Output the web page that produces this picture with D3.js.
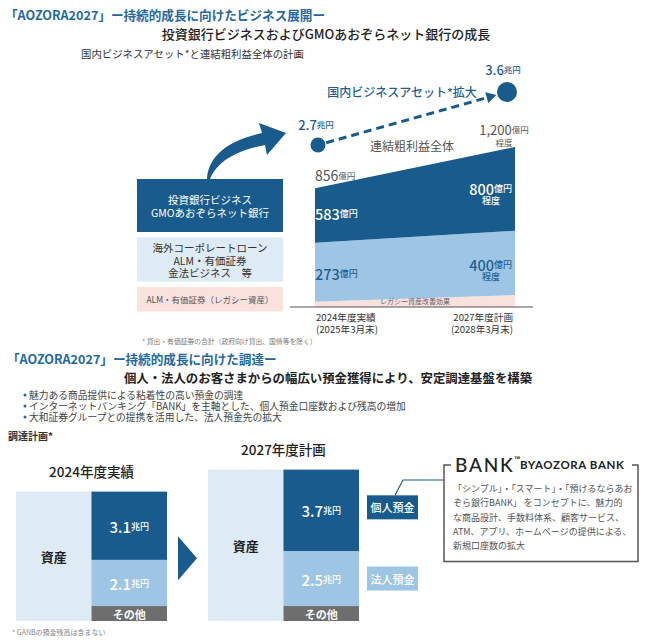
<!DOCTYPE html>
<html><head><meta charset="utf-8">
<script src="https://cdn.jsdelivr.net/npm/d3@7"></script>
<style>
body{margin:0;background:#fff;}
svg{display:block;font-family:"Noto Sans CJK JP","Noto Sans",sans-serif;}
</style></head>
<body>
<svg id="c" width="648" height="644"></svg>
<script>
// ---------- DATA ----------
const years = [2024, 2027];
const periodLabels = [["2024年度実績", "(2025年3月末)"], ["2027年度計画", "(2028年3月末)"]];
const legacyArea = [40, 90];          // 億円, shape as drawn
const corporateArea = [442, 482];
const investArea = [408, 628];
const totalLabels = ["856", "1,200"];
const corporateLabels = ["273", "400"];
const investLabels = ["583", "800"];
const assetValues = [2.7, 3.6];        // 兆円
const assetLabels = ["2.7", "3.6"];

const fundingPeriods = ["2024年度実績", "2027年度計画"];
const retailDeposits = [3.1, 3.7];     // 兆円
const corporateDeposits = [2.1, 2.5];
const otherFunding = [0.68, 0.68];
const bulletTexts = [
  "魅力ある商品提供による粘着性の高い預金の調達",
  "インターネットバンキング「BANK」を主軸とした、個人預金口座数および残高の増加",
  "大和証券グループとの提携を活用した、法人預金先の拡大"
];
const bankLines = [
  "「シンプル」・「スマート」・「預けるならあお",
  "ぞら銀行BANK」 をコンセプトに、魅力的",
  "な商品設計、手数料体系、顧客サービス、",
  "ATM、アプリ、ホームページの提供による、",
  "新規口座数の拡大"
];

// ---------- STYLE ----------
const DARK = "#195b8c", LIGHT = "#9fc5e4", PALE = "#deebf5", PINK = "#f9e1dd";
const TITLE = "#2468a2", GREY = "#555", OTHER = "#6e6e6e";

const svg = d3.select("#c");

function txt(x, y, parts, o = {}) {
  const t = svg.append("text").attr("x", x).attr("y", y)
    .attr("text-anchor", o.anchor || "start")
    .attr("dominant-baseline", "central")
    .attr("fill", o.fill || "#333");
  if (o.ls) t.attr("letter-spacing", o.ls);
  parts.forEach(p => {
    t.append("tspan").text(p[0]).attr("font-size", p[1]).attr("font-weight", p[2] || 400);
  });
  return t;
}

// ---------- HEADERS ----------
txt(5, 14, [["「AOZORA2027」ー持続的成長に向けたビジネス展開ー", 12.6, 700]], {fill: TITLE});
txt(326, 33, [["投資銀行ビジネスおよびGMOあおぞらネット銀行の成長", 13, 500]], {anchor: "middle", fill: "#222"});
txt(81, 53, [["国内ビジネスアセット*と連結粗利益全体の計画", 10.4, 400]], {fill: "#333"});

// ---------- SECTION 1 AREA CHART ----------
const x = d3.scaleLinear().domain(years).range([315, 515]);
const y = d3.scaleLinear().domain([0, 1200]).range([307, 147]);
const rows = years.map((yr, i) => ({year: yr, legacy: legacyArea[i], corporate: corporateArea[i], invest: investArea[i]}));
const stack = d3.stack().keys(["legacy", "corporate", "invest"])(rows);
const fills = {legacy: PINK, corporate: LIGHT, invest: DARK};
const area = d3.area().x(d => x(d.data.year)).y0(d => y(d[0])).y1(d => y(d[1]));
svg.append("g").selectAll("path").data(stack).join("path")
  .attr("d", area).attr("fill", d => fills[d.key]);

// axis line
svg.append("line").attr("x1", x(2024) - 25).attr("x2", x(2027) + 18)
  .attr("y1", y(0)).attr("y2", y(0)).attr("stroke", "#555").attr("stroke-width", 1.2);

txt((x(2024) + x(2027)) / 2, y(0) - 6, [["レガシー資産改善効果", 7, 400]], {anchor: "middle", fill: "#666"});

// period labels
periodLabels.forEach((pl, i) => {
  const a = i === 0 ? "start" : "end";
  const xx = i === 0 ? x(years[0]) + 1 : x(years[1]) - 2;
  txt(xx, 317, [[pl[0], 9.6, 400]], {anchor: a, fill: "#333"});
  txt(xx, 329, [[pl[1], 9.6, 400]], {anchor: a, fill: "#333"});
});

// area value labels
const top0 = y(legacyArea[0] + corporateArea[0] + investArea[0]);
const top1 = y(legacyArea[1] + corporateArea[1] + investArea[1]);
txt(x(2024), top0 - 13, [[totalLabels[0], 14, 400], ["億円", 8.5, 400]], {fill: GREY});
txt(x(2027) - 11, top1 - 18, [[totalLabels[1], 13, 400], ["億円", 8.5, 400]], {anchor: "middle", fill: GREY});
txt(x(2027) - 11, top1 - 5, [["程度", 8.5, 400]], {anchor: "middle", fill: GREY});

const invMid0 = y(legacyArea[0] + corporateArea[0] + investArea[0] / 2);
txt(x(2024), invMid0 - 3, [[investLabels[0], 14.5, 500], ["億円", 9, 500]], {fill: "#fff"});
txt(x(2027) - 3, top1 + 41, [[investLabels[1], 14.5, 500], ["億円", 9, 500]], {anchor: "end", fill: "#fff"});
txt(x(2027) - 24, top1 + 53, [["程度", 9, 500]], {anchor: "middle", fill: "#fff"});

const corMid0 = y(legacyArea[0] + corporateArea[0] / 2);
txt(x(2024), corMid0 + 1, [[corporateLabels[0], 14.5, 500], ["億円", 9, 500]], {fill: "#1f5f94"});
txt(x(2027) - 3, y(legacyArea[1] + corporateArea[1] / 2) + 1, [[corporateLabels[1], 14.5, 500], ["億円", 9, 500]], {anchor: "end", fill: "#1f5f94"});
txt(x(2027) - 24, y(legacyArea[1] + corporateArea[1] / 2) + 13, [["程度", 9, 500]], {anchor: "middle", fill: "#1f5f94"});

txt(412, 145, [["連結粗利益全体", 12, 400]], {anchor: "middle", fill: GREY});

// asset dots & dashed arrow
const ay = d3.scaleLinear().domain(assetValues).range([145, 92]);
const dots = [
  {cx: x(years[0]) + 3, cy: ay(assetValues[0]), r: 7.5, label: assetLabels[0]},
  {cx: x(years[1]) - 8, cy: ay(assetValues[1]), r: 10, label: assetLabels[1]}
];
svg.append("g").selectAll("circle").data(dots).join("circle")
  .attr("cx", d => d.cx).attr("cy", d => d.cy).attr("r", d => d.r).attr("fill", DARK);
{
  const [p0, p1] = dots;
  const dx = p1.cx - p0.cx, dy = p1.cy - p0.cy, L = Math.hypot(dx, dy);
  const ux = dx / L, uy = dy / L;
  const sx = p0.cx + ux * (p0.r + 1), sy = p0.cy + uy * (p0.r + 1);
  const tx = p1.cx - ux * (p1.r + 1), ty = p1.cy - uy * (p1.r + 1);
  const bx = tx - ux * 10, by = ty - uy * 10;
  svg.append("line").attr("x1", sx).attr("y1", sy).attr("x2", bx).attr("y2", by)
    .attr("stroke", DARK).attr("stroke-width", 3).attr("stroke-dasharray", "8,5");
  svg.append("path").attr("fill", DARK)
    .attr("d", `M${tx},${ty}L${bx - uy * 5.5},${by + ux * 5.5}L${bx + uy * 5.5},${by - ux * 5.5}Z`);
}
txt(dots[0].cx - 2, dots[0].cy - 21, [[dots[0].label, 13, 500], ["兆円", 8.5, 500]], {anchor: "middle", fill: "#1f5f94"});
txt(dots[1].cx - 4, dots[1].cy - 23, [[dots[1].label, 13, 500], ["兆円", 8.5, 500]], {anchor: "middle", fill: "#1f5f94"});
txt(402, 91, [["国内ビジネスアセット*拡大", 12, 500]], {anchor: "middle", fill: "#1f5f94"});

// left legend boxes
const boxes = [
  {y0: 179, y1: 232, fill: DARK, color: "#fff", lines: ["投資銀行ビジネス", "GMOあおぞらネット銀行"], fs: 10.5},
  {y0: 237.5, y1: 281.5, fill: PALE, color: "#333", lines: ["海外コーポレートローン", "ALM・有価証券", "金法ビジネス　等"], fs: 10.5},
  {y0: 287, y1: 311.5, fill: PINK, color: "#555", lines: ["ALM・有価証券（レガシー資産）"], fs: 8.5}
];
boxes.forEach(b => {
  svg.append("rect").attr("x", 137).attr("y", b.y0).attr("width", 146).attr("height", b.y1 - b.y0).attr("fill", b.fill);
  const n = b.lines.length, mid = (b.y0 + b.y1) / 2, lh = b.fs + 2;
  b.lines.forEach((l, i) => txt(210, mid + (i - (n - 1) / 2) * lh, [[l, b.fs, 400]], {anchor: "middle", fill: b.color}));
});
// curved arrow
svg.append("path").attr("fill", DARK)
  .attr("d", "M207,179 C208,158 225,141 262,133 L259,123 L286,133 L267,155 L265,145 C238,150 218,160 210,179 Z");

txt(142, 341, [["*", 6.8, 400], ["  貸出・有価証券の合計（政府向け貸出、国債等を除く）", 6.8, 400]], {fill: "#777"});

// ---------- SECTION 2 ----------
txt(7, 358, [["「AOZORA2027」ー持続的成長に向けた調達ー", 12.6, 700]], {fill: TITLE});
txt(328, 378, [["個人・法人のお客さまからの幅広い預金獲得により、安定調達基盤を構築", 12.4, 700]], {anchor: "middle", fill: "#222"});
bulletTexts.forEach((b, i) => {
  svg.append("circle").attr("cx", 25).attr("cy", 395 + i * 11).attr("r", 1.5).attr("fill", TITLE);
  txt(29, 395 + i * 11, [[b, 9.75, 400]], {fill: "#444"});
});
txt(8, 435, [["調達計画*", 10, 700]], {fill: "#333"});

const band = d3.scaleBand().domain(fundingPeriods).range([16, 359]).paddingInner(0.2135).paddingOuter(0);
const h = d3.scaleLinear().domain([0, 1]).range([0, 22]);
const base = 621;
const frows = fundingPeriods.map((p, i) => ({period: p, other: otherFunding[i], corp: corporateDeposits[i], retail: retailDeposits[i]}));
const fstack = d3.stack().keys(["other", "corp", "retail"])(frows);
const ffill = {other: OTHER, corp: LIGHT, retail: DARK};
const bw = band.bandwidth(), half = bw / 2;

frows.forEach((r, i) => {
  const total = r.other + r.corp + r.retail;
  const bx = band(r.period);
  svg.append("rect").attr("x", bx).attr("y", base - h(total)).attr("width", bw).attr("height", h(total)).attr("fill", PALE);
  txt(bx + half / 2, base - h(total) / 2, [["資産", 13, 700]], {anchor: "middle", fill: "#222"});
  txt(bx + bw / 2, base - h(total) - 21, [[r.period, 13.5, 500]], {anchor: "middle", fill: "#222"});
});
svg.append("g").selectAll("g").data(fstack).join("g").attr("fill", d => ffill[d.key])
  .selectAll("rect").data(d => d).join("rect")
  .attr("x", d => band(d.data.period) + half).attr("width", half)
  .attr("y", d => base - h(d[1])).attr("height", d => h(d[1]) - h(d[0]));

fstack.forEach(layer => {
  layer.forEach(d => {
    const cx = band(d.data.period) + half * 1.5;
    const cy = base - h((d[0] + d[1]) / 2);
    if (layer.key === "other") txt(cx, cy, [["その他", 11, 700]], {anchor: "middle", fill: "#fff"});
    else txt(cx, cy, [[String(d.data[layer.key]), 15, 500], ["兆円", 9, 500]], {anchor: "middle", fill: "#fff"});
  });
});

// triangle arrow between blocks
{
  const gx = band(fundingPeriods[0]) + bw + 11;
  const cy = base - h(otherFunding[0] + corporateDeposits[0] + retailDeposits[0]) / 2 + 2;
  svg.append("path").attr("fill", DARK).attr("d", `M${gx},${cy - 22}L${gx + 19},${cy}L${gx},${cy + 22}Z`);
}

// tags
{
  const bx2 = band(fundingPeriods[1]) + bw + 8;
  const retMid = base - h(otherFunding[1] + corporateDeposits[1] + retailDeposits[1] / 2) - 3;
  const corMid = base - h(otherFunding[1] + corporateDeposits[1] / 2);
  [[retMid, DARK, "個人預金"], [corMid, LIGHT, "法人預金"]].forEach(([m, f, t]) => {
    svg.append("rect").attr("x", bx2).attr("y", m - 12).attr("width", 51).attr("height", 24).attr("fill", f);
    txt(bx2 + 25.5, m, [[t, 11, 500]], {anchor: "middle", fill: "#fff"});
  });
  svg.append("path").attr("fill", "none").attr("stroke", DARK).attr("stroke-width", 1.2)
    .attr("d", `M${bx2 + 28},${retMid - 12}L${bx2 + 36},480L444,480`);
}

// BANK box
svg.append("path").attr("fill", "none").attr("stroke", "#555").attr("stroke-width", 1.5)
  .attr("d", "M451,465L444,465L444,561.5L638,561.5L638,465L632,465");
const bt = svg.append("text").attr("x", 455).attr("y", 464).attr("dominant-baseline", "central").attr("fill", "#222");
bt.append("tspan").text("BANK").attr("font-size", 19).attr("font-weight", 500).attr("letter-spacing", 1.8)
  .attr("font-family", "Lato, 'Noto Sans', sans-serif");
bt.append("tspan").text("™").attr("font-size", 7).attr("dy", -5).attr("font-weight", 700);
bt.append("tspan").text("BYAOZORA BANK").attr("font-size", 11.5).attr("dy", 5).attr("font-weight", 700)
  .attr("letter-spacing", 0.6).attr("font-family", "Lato, 'Noto Sans', sans-serif");
bankLines.forEach((l, i) => txt(453, 488 + i * 14.3, [[l, 9, 400]], {fill: GREY}));

txt(12, 632, [["*", 7, 400], ["  GANBの預金残高は含まない", 7, 400]], {fill: "#888"});
</script>
</body></html>
